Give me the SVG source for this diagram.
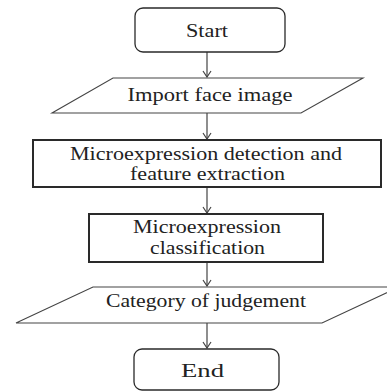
<svg xmlns="http://www.w3.org/2000/svg" width="387" height="392" viewBox="0 0 387 392">
<style>
.box{fill:#fff;stroke:#2a2a2a;stroke-width:1.3}
.thick{stroke-width:2}
.para{fill:#fff;stroke:#444;stroke-width:1.1}
.t{font-family:"Liberation Serif","DejaVu Serif","Times New Roman",serif;font-size:18px;fill:#222;text-anchor:middle}
.c{stroke:#444;stroke-width:1.2;fill:none}
</style>
<defs>
<marker id="ah" markerWidth="8" markerHeight="10" refX="7" refY="5" markerUnits="userSpaceOnUse" orient="auto" viewBox="0 0 8 10">
<path d="M1,1 L7,5 L1,9" fill="none" stroke="#444" stroke-width="1.2"/>
</marker>
</defs>
<rect width="387" height="392" fill="#fff"/>
<g id="connectors">
<line class="c" x1="207" y1="52" x2="207" y2="77" marker-end="url(#ah)"/>
<line class="c" x1="207" y1="113" x2="207" y2="139" marker-end="url(#ah)"/>
<line class="c" x1="207" y1="187" x2="207" y2="213" marker-end="url(#ah)"/>
<line class="c" x1="207" y1="262" x2="207" y2="286" marker-end="url(#ah)"/>
<line class="c" x1="207" y1="323" x2="207" y2="348" marker-end="url(#ah)"/>
</g>
<g id="start">
<rect class="box" x="135" y="8" width="150" height="44" rx="8"/>
<text class="t" x="207" y="37" textLength="42" lengthAdjust="spacingAndGlyphs">Start</text>
</g>
<g id="import">
<polygon class="para" points="113,78 363,78 301,113 52,113"/>
<text class="t" x="210" y="101" textLength="165" lengthAdjust="spacingAndGlyphs">Import face image</text>
</g>
<g id="detection">
<rect class="box thick" x="33" y="140" width="348" height="47"/>
<text class="t" x="206" y="160" textLength="272" lengthAdjust="spacingAndGlyphs">Microexpression detection and</text>
<text class="t" x="207.5" y="180" textLength="155" lengthAdjust="spacingAndGlyphs">feature extraction</text>
</g>
<g id="classification">
<rect class="box thick" x="89" y="214" width="234" height="48"/>
<text class="t" x="207" y="233" textLength="148" lengthAdjust="spacingAndGlyphs">Microexpression</text>
<text class="t" x="207.5" y="254" textLength="115" lengthAdjust="spacingAndGlyphs">classification</text>
</g>
<g id="category">
<polygon class="para" points="93,287 399,287 322,323 16,323"/>
<text class="t" x="206" y="307" textLength="200" lengthAdjust="spacingAndGlyphs">Category of judgement</text>
</g>
<g id="end">
<rect class="box" x="134" y="349" width="145" height="41" rx="8"/>
<text class="t" x="202.5" y="377" textLength="43" lengthAdjust="spacingAndGlyphs">End</text>
</g>
</svg>
